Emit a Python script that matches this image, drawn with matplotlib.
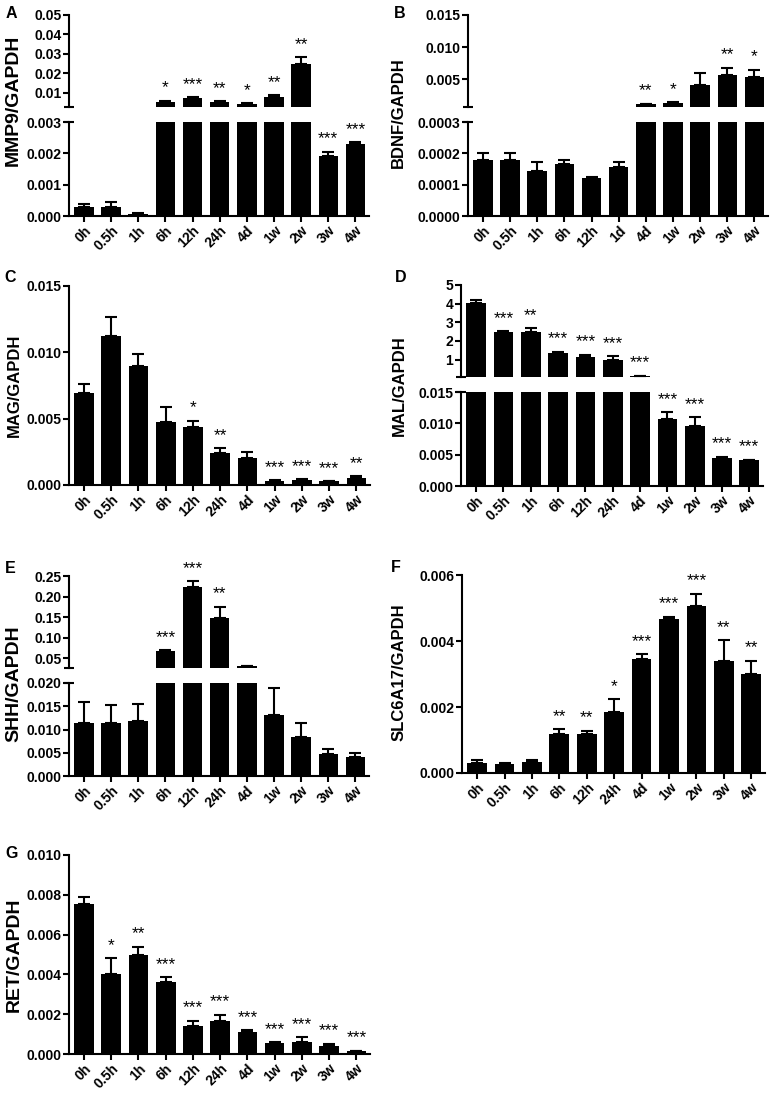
import matplotlib
matplotlib.use('Agg')
import matplotlib.pyplot as plt
import numpy as np
from matplotlib.ticker import FormatStrFormatter

plt.rcParams['font.family'] = ['Liberation Sans', 'DejaVu Sans']

W, H = 773, 1098

# ---------------- data ----------------
time_labels = ['0h', '0.5h', '1h', '6h', '12h', '24h', '4d', '1w', '2w', '3w', '4w']
time_labels_bdnf = ['0h', '0.5h', '1h', '6h', '12h', '1d', '4d', '1w', '2w', '3w', '4w']

mmp9_mean = [0.00030, 0.00030, 0.00007, 0.0054, 0.0074, 0.0054, 0.0042, 0.0078, 0.0251, 0.00192, 0.00229]
mmp9_sem = [0.00008, 0.00016, 0.00001, 0.0005, 0.0004, 0.0003, 0.0005, 0.0010, 0.0031, 0.00013, 0.00007]
mmp9_sig = ['', '', '', '*', '***', '**', '*', '**', '**', '***', '***']

bdnf_mean = [0.000180, 0.000178, 0.000143, 0.000165, 0.000120, 0.000155, 0.00109, 0.00130, 0.00417, 0.0057, 0.0053]
bdnf_sem = [0.000020, 0.000023, 0.000030, 0.000013, 0.000003, 0.000016, 0.00011, 0.00016, 0.00183, 0.0011, 0.0012]
bdnf_sig = ['', '', '', '', '', '', '**', '*', '', '**', '*']

mag_mean = [0.0069, 0.01123, 0.00897, 0.00477, 0.0044, 0.00239, 0.00206, 0.00030, 0.00038, 0.00028, 0.00055]
mag_sem = [0.0007, 0.00146, 0.00088, 0.00108, 0.00045, 0.00037, 0.00045, 0.00005, 0.00007, 0.00002, 0.00010]
mag_sig = ['', '', '', '', '*', '**', '', '***', '***', '***', '**']

mal_mean = [4.04, 2.48, 2.48, 1.38, 1.14, 1.00, 0.12, 0.0107, 0.0096, 0.0045, 0.0041]
mal_sem = [0.14, 0.04, 0.21, 0.05, 0.13, 0.17, 0.01, 0.0011, 0.0014, 0.0002, 0.0001]
mal_sig = ['', '***', '**', '***', '***', '***', '***', '***', '***', '***', '***']

shh_mean = [0.0115, 0.0114, 0.0119, 0.0677, 0.2226, 0.147, 0.031, 0.0132, 0.0083, 0.00475, 0.0040]
shh_sem = [0.0044, 0.0039, 0.0036, 0.0025, 0.0144, 0.028, 0.001, 0.0057, 0.0030, 0.0010, 0.0010]
shh_sig = ['', '', '', '***', '***', '**', '', '', '', '', '']

slc_mean = [0.00030, 0.00028, 0.00033, 0.00119, 0.00117, 0.00185, 0.00345, 0.00467, 0.00506, 0.0034, 0.0030]
slc_sem = [0.00010, 0.00002, 0.00007, 0.00014, 0.00011, 0.00039, 0.00015, 0.00007, 0.00037, 0.00063, 0.00040]
slc_sig = ['', '', '', '**', '**', '*', '***', '***', '***', '**', '**']

ret_mean = [0.00753, 0.00401, 0.00498, 0.00361, 0.00139, 0.00167, 0.00110, 0.00055, 0.00059, 0.00038, 0.00013]
ret_sem = [0.00035, 0.00081, 0.00042, 0.00024, 0.00028, 0.00030, 0.00009, 0.00005, 0.00026, 0.00014, 0.00004]
ret_sig = ['', '*', '**', '***', '***', '***', '***', '***', '***', '***', '***']

# ---------------- style ----------------
LW = 1.5
TICK_FS = 10
STAR_FS = 12.5

fig = plt.figure(figsize=(W / 100, H / 100), dpi=100)


def rect(l, r, t, b):
    return [l / W, 1 - b / H, (r - l) / W, (b - t) / H]


def style_axis(ax, bottom_spine=True):
    for s in ['top', 'right']:
        ax.spines[s].set_visible(False)
    ax.spines['left'].set_linewidth(LW)
    ax.spines['bottom'].set_linewidth(LW)
    ax.spines['bottom'].set_visible(bottom_spine)
    ax.tick_params(axis='both', direction='out', length=4.5, width=LW,
                   labelsize=TICK_FS, pad=1)
    for lab in ax.get_yticklabels():
        lab.set_fontweight('bold')


def draw(ax, labels, mean, sem, sig, ylo, yhi):
    n = len(labels)
    x = np.arange(n)
    mean = np.asarray(mean, float)
    sem = np.asarray(sem, float)
    ax.bar(x, mean, width=0.72, color='black', zorder=2)
    top = mean + sem
    keep = (top >= ylo) & (mean <= yhi)
    ax.errorbar(x[keep], mean[keep], yerr=[np.zeros(keep.sum()), sem[keep]],
                fmt='none', ecolor='black', elinewidth=LW, capsize=4.5,
                capthick=LW, zorder=3)
    for xi, t, g in zip(x, top, sig):
        if g and ylo <= t <= yhi:
            ax.annotate(g, (xi, t), xytext=(0, 6), textcoords='offset points',
                        ha='center', va='baseline', fontsize=STAR_FS)
    ax.set_xlim(-0.55, n - 0.5)
    ax.set_ylim(ylo, yhi)


def xlabels(ax, labels):
    ax.set_xticks(np.arange(len(labels)))
    ax.set_xticklabels(labels, rotation=45, ha='right', va='top',
                       rotation_mode='anchor', fontweight='bold', fontsize=TICK_FS)


def single(l, r, t, b, labels, mean, sem, sig, ylim, ticks, fmt):
    ax = fig.add_axes(rect(l, r, t, b))
    draw(ax, labels, mean, sem, sig, ylim[0], ylim[1])
    ax.set_yticks(ticks)
    ax.yaxis.set_major_formatter(FormatStrFormatter(fmt))
    xlabels(ax, labels)
    style_axis(ax)
    return ax


def broken(l, r, t_up, b_up, t_lo, b_lo, labels, mean, sem, sig,
           ylim_up, ticks_up, fmt_up, ylim_lo, ticks_lo, fmt_lo):
    axu = fig.add_axes(rect(l, r, t_up, b_up))
    draw(axu, labels, mean, sem, sig, ylim_up[0], ylim_up[1])
    axu.set_yticks(ticks_up)
    axu.yaxis.set_major_formatter(FormatStrFormatter(fmt_up))
    axu.set_xticks([])
    style_axis(axu, bottom_spine=False)
    axu.plot([0], [0], marker='_', markersize=7, mew=LW, color='black',
             transform=axu.transAxes, clip_on=False)

    axl = fig.add_axes(rect(l, r, t_lo, b_lo))
    draw(axl, labels, mean, sem, sig, ylim_lo[0], ylim_lo[1])
    axl.set_yticks(ticks_lo)
    axl.yaxis.set_major_formatter(FormatStrFormatter(fmt_lo))
    xlabels(axl, labels)
    style_axis(axl)
    axl.plot([0], [1], marker='_', markersize=7, mew=LW, color='black',
             transform=axl.transAxes, clip_on=False)
    return axu, axl


# A
broken(69, 369, 15, 107, 122, 216, time_labels, mmp9_mean, mmp9_sem, mmp9_sig,
       (0.0028, 0.05), [0.01, 0.02, 0.03, 0.04, 0.05], '%.2f',
       (0, 0.003), [0, 0.001, 0.002, 0.003], '%.3f')
# B
broken(468, 768, 15, 107, 122, 216, time_labels_bdnf, bdnf_mean, bdnf_sem, bdnf_sig,
       (0.00068, 0.015), [0.005, 0.010, 0.015], '%.3f',
       (0, 0.0003), [0, 0.0001, 0.0002, 0.0003], '%.4f')
# C
single(69, 370, 286, 485, time_labels, mag_mean, mag_sem, mag_sig,
       (0, 0.015), [0, 0.005, 0.010, 0.015], '%.3f')
# D
broken(461, 763, 285, 377, 392, 486, time_labels, mal_mean, mal_sem, mal_sig,
       (0.07, 5), [1, 2, 3, 4, 5], '%d',
       (0, 0.015), [0, 0.005, 0.010, 0.015], '%.3f')
# E
broken(69, 369, 576, 668, 683, 776, time_labels, shh_mean, shh_sem, shh_sig,
       (0.0265, 0.25), [0.05, 0.10, 0.15, 0.20, 0.25], '%.2f',
       (0, 0.020), [0, 0.005, 0.010, 0.015, 0.020], '%.3f')
# F
single(462, 765, 575, 773, time_labels, slc_mean, slc_sem, slc_sig,
       (0, 0.006), [0, 0.002, 0.004, 0.006], '%.3f')
# G
single(69, 370, 855, 1054, time_labels, ret_mean, ret_sem, ret_sig,
       (0, 0.010), [0, 0.002, 0.004, 0.006, 0.008, 0.010], '%.3f')

# panel letters
letters = [('A', 11, 13), ('B', 400, 13), ('C', 10, 277), ('D', 401, 278),
           ('E', 10, 569), ('F', 396, 568), ('G', 12, 853)]
for t, px, py in letters:
    fig.text(px / W, 1 - py / H, t, fontsize=11.5, fontweight='bold',
             ha='center', va='center')

# y labels
ylabels = [('MMP9/GAPDH', 13, 100, 14), ('BDNF/GAPDH', 398, 113, 12),
           ('MAG/GAPDH', 14, 385, 12), ('MAL/GAPDH', 399, 386, 12),
           ('SHH/GAPDH', 14, 684, 14), ('SLC6A17/GAPDH', 399, 672, 12),
           ('RET/GAPDH', 14, 955, 14)]
for t, px, py, fs in ylabels:
    fig.text(px / W, 1 - py / H, t, fontsize=fs, fontweight='bold',
             rotation=90, ha='center', va='center')

fig.savefig('out.png', dpi=100)
